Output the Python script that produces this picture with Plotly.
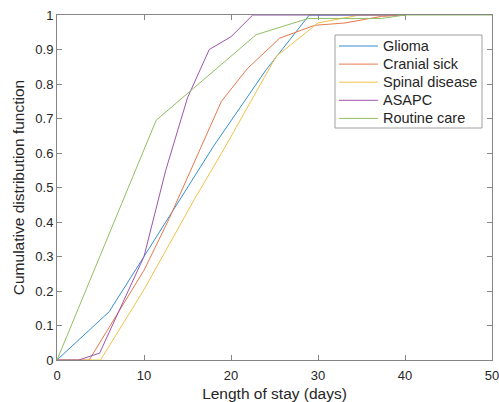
import plotly.graph_objects as go

# Data (days, cumulative probability)
glioma_x = [0, 6, 10, 18, 24, 29, 40]
glioma_y = [0, 0.14, 0.30, 0.62, 0.84, 1.0, 1.0]

cranial_x = [0, 3.7, 10, 12.9, 18.9, 21.9, 25.6, 29.6, 33.1, 37.3, 40]
cranial_y = [0, 0, 0.26, 0.41, 0.75, 0.845, 0.933, 0.97, 0.977, 0.996, 1.0]

spinal_x = [0, 5, 10, 15.8, 19.2, 25.2, 30, 34.8, 40]
spinal_y = [0, 0, 0.204, 0.466, 0.612, 0.88, 0.977, 1.0, 1.0]

asapc_x = [0, 2.5, 4.9, 10, 12.5, 15, 17.5, 20, 22.5, 40]
asapc_y = [0, 0, 0.02, 0.30, 0.55, 0.76, 0.90, 0.937, 1.0, 1.0]

routine_x = [0, 11.4, 22.9, 28.9, 37.3, 40, 50]
routine_y = [0, 0.695, 0.943, 0.99, 0.99, 1.0, 1.0]

names = ["Glioma", "Cranial sick", "Spinal disease", "ASAPC", "Routine care"]
colors = ["#3690d4", "#e6794c", "#f2c14a", "#9a55ad", "#8fc062"]
series = [(glioma_x, glioma_y), (cranial_x, cranial_y), (spinal_x, spinal_y),
          (asapc_x, asapc_y), (routine_x, routine_y)]

x_ticks = [0, 10, 20, 30, 40, 50]
y_ticks = [0, 0.1, 0.2, 0.3, 0.4, 0.5, 0.6, 0.7, 0.8, 0.9, 1]
y_ticklabels = ["0", "0.1", "0.2", "0.3", "0.4", "0.5", "0.6", "0.7", "0.8", "0.9", "1"]

W, H = 499, 402
ML, MR, MT, MB = 57, 7, 15, 42
PW, PH = W - ML - MR, H - MT - MB


def px_to_paper_x(px):
    return (px - ML) / PW


def px_to_paper_y(py):
    return (H - MB - py) / PH


fig = go.Figure()
for (xs, ys), n, c in zip(series, names, colors):
    fig.add_trace(go.Scatter(x=xs, y=ys, mode="lines", name=n,
                             line=dict(color=c, width=1), showlegend=False))

axis_color = "#858585"
font_family = "Liberation Sans, Arial, sans-serif"
text_color = "#262626"

# Legend box (drawn manually to match the compact MATLAB-style spacing)
box_l, box_r, box_t, box_b = 335, 482, 35, 128
row0, row_step = 46, 18.1
line_l, line_r, text_l = 339, 378, 381
shapes = [dict(type="rect", xref="paper", yref="paper",
               x0=px_to_paper_x(box_l), x1=px_to_paper_x(box_r),
               y0=px_to_paper_y(box_b), y1=px_to_paper_y(box_t),
               line=dict(color="#a0a0a0", width=1), fillcolor="white", layer="above")]
annotations = []
for i, (n, c) in enumerate(zip(names, colors)):
    yy = px_to_paper_y(row0 + i * row_step)
    shapes.append(dict(type="line", xref="paper", yref="paper",
                       x0=px_to_paper_x(line_l), x1=px_to_paper_x(line_r),
                       y0=yy, y1=yy, line=dict(color=c, width=1), layer="above"))
    annotations.append(dict(xref="paper", yref="paper", x=px_to_paper_x(text_l), y=yy,
                            text=n, showarrow=False, xanchor="left", yanchor="middle",
                            font=dict(size=14.5, family=font_family, color=text_color)))

fig.update_layout(
    width=W, height=H,
    margin=dict(l=ML, r=MR, t=MT, b=MB, autoexpand=False),
    paper_bgcolor="white", plot_bgcolor="white",
    font=dict(family=font_family, color=text_color, size=13),
    showlegend=False,
    shapes=shapes, annotations=annotations,
)
fig.update_xaxes(
    range=[0, 50], tickvals=x_ticks, ticktext=[str(v) for v in x_ticks],
    showgrid=False, zeroline=False, showline=True, linecolor=axis_color, linewidth=1,
    mirror="ticks", ticks="inside", ticklen=5, tickcolor=axis_color,
    tickfont=dict(size=13), automargin=False, ticklabeloverflow="allow",
    ticklabelstandoff=3, layer="below traces",
    title=dict(text="Length of stay (days)", font=dict(size=15.5), standoff=9),
)
fig.update_yaxes(
    range=[0, 1], tickvals=y_ticks, ticktext=y_ticklabels,
    showgrid=False, zeroline=False, showline=True, linecolor=axis_color, linewidth=1,
    mirror="ticks", ticks="inside", ticklen=5, tickcolor=axis_color,
    tickfont=dict(size=13), automargin=False, ticklabeloverflow="allow",
    layer="below traces",
    title=dict(text="Cumulative distribution function", font=dict(size=15.5), standoff=6),
)

fig.write_html("out.html", config={"displayModeBar": False},
               post_script="document.body.style.margin='0';")
